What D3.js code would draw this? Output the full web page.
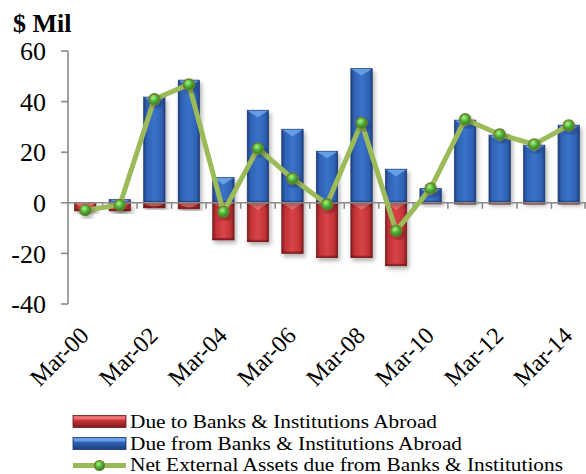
<!DOCTYPE html>
<html><head><meta charset="utf-8">
<script src="https://cdn.jsdelivr.net/npm/d3@7"></script>
<style>body{margin:0;background:#fff}svg{display:block}</style>
</head><body>
<script>
const categories = ["Mar-00","Mar-01","Mar-02","Mar-03","Mar-04","Mar-05","Mar-06","Mar-07","Mar-08","Mar-09","Mar-10","Mar-11","Mar-12","Mar-13","Mar-14"];
const dueTo = [-3.2,-3.2,-2.0,-2.4,-14.7,-15.4,-20.0,-21.7,-21.7,-24.9,-0.4,-0.5,-0.5,-0.5,-0.5];
const dueFrom = [0,1.3,41.8,48.5,10.0,36.6,29.1,20.4,53.1,13.3,5.7,32.7,26.8,22.8,30.7];
const net = [-2.9,-0.9,40.9,46.8,-3.6,21.5,9.6,-0.6,31.6,-11.1,5.7,33.0,27.0,23.1,30.6];
const yTicks = [-40,-20,0,20,40,60];
const xTickLabels = ["Mar-00","Mar-02","Mar-04","Mar-06","Mar-08","Mar-10","Mar-12","Mar-14"];
const seriesNames = ["Due to Banks & Institutions Abroad","Due from Banks & Institutions Abroad","Net External Assets due from Banks & Institutions"];

const W=586,H=474;
const svg=d3.select("body").append("svg").attr("width",W).attr("height",H);
const defs=svg.append("defs");
function hgrad(id,stops){const g=defs.append("linearGradient").attr("id",id).attr("x1","0").attr("x2","1").attr("y1","0").attr("y2","0");
 stops.forEach(s=>g.append("stop").attr("offset",s[0]).attr("stop-color",s[1]));}
function vgrad(id,stops){const g=defs.append("linearGradient").attr("id",id).attr("x1","0").attr("x2","0").attr("y1","0").attr("y2","1");
 stops.forEach(s=>g.append("stop").attr("offset",s[0]).attr("stop-color",s[1]));}
hgrad("gBlue",[[0,"#1d3f7c"],[0.15,"#2f62b5"],[0.5,"#3a73c8"],[0.85,"#2f62b5"],[1,"#1d3f7c"]]);
hgrad("gRed",[[0,"#7e1c1e"],[0.15,"#c03236"],[0.5,"#d84448"],[0.85,"#c03236"],[1,"#7e1c1e"]]);
vgrad("gRedV",[[0,"#e86a6a"],[0.4,"#c83438"],[1,"#7e1c1e"]]);
vgrad("gBlueV",[[0,"#6fa7ec"],[0.4,"#2f62b5"],[1,"#1d3f7c"]]);
const rg=defs.append("radialGradient").attr("id","gDot").attr("cx","0.4").attr("cy","0.35").attr("r","0.65");
rg.append("stop").attr("offset",0).attr("stop-color","#b6f08a");
rg.append("stop").attr("offset",0.5).attr("stop-color","#4fb83a");
rg.append("stop").attr("offset",1).attr("stop-color","#2e7a22");
const f=defs.append("filter").attr("id","sh").attr("x","-30%").attr("y","-30%").attr("width","160%").attr("height","160%");
f.append("feDropShadow").attr("dx",2).attr("dy",3).attr("stdDeviation",2).attr("flood-color","#000").attr("flood-opacity",0.3);

const x=d3.scaleBand().domain(categories).range([68,586]).paddingInner(0.38).paddingOuter(0.19);
const y=d3.scaleLinear().domain([-40,60]).range([304,51]);
const axisColor="#8a8a8a";
const font="Liberation Serif";

function drawBars(vals,grad,light,dark){
 const g=svg.append("g");
 vals.forEach((v,i)=>{
  if(v===0) return;
  const x0=x(categories[i]),bw=x.bandwidth();
  const yTop=y(Math.max(v,0)),yBot=y(Math.min(v,0));
  const h=yBot-yTop;
  const b=g.append("g").attr("filter","url(#sh)");
  b.append("rect").attr("x",x0).attr("y",yTop).attr("width",bw).attr("height",h).attr("fill",`url(#${grad})`).attr("stroke",dark).attr("stroke-width",0.6);
  const d=Math.min(7,h);
  b.append("path").attr("d",`M${x0+0.5},${yTop+0.5}L${x0+bw-0.5},${yTop+0.5}L${x0+bw/2},${yTop+d}Z`).attr("fill",light).attr("opacity",0.85);
  if(h>4) b.append("rect").attr("x",x0).attr("y",yBot-2).attr("width",bw).attr("height",2).attr("fill",dark).attr("opacity",0.6);
 });
}
drawBars(dueTo,"gRed","#f07a78","#6e1618");
drawBars(dueFrom,"gBlue","#6fa7ec","#17336a");

const ax=svg.append("g").attr("stroke",axisColor).attr("stroke-width",1.6).attr("fill","none");
ax.append("line").attr("x1",68).attr("x2",68).attr("y1",y(60)).attr("y2",y(-40));
yTicks.forEach(t=>ax.append("line").attr("x1",61).attr("x2",68).attr("y1",y(t)).attr("y2",y(t)));
ax.append("line").attr("x1",68).attr("x2",586).attr("y1",y(0)).attr("y2",y(0));
categories.forEach((c,i)=>{ if(i===0) return; const xx=x(c)-x.step()*x.paddingInner()/2;
 ax.append("line").attr("x1",xx).attr("x2",xx).attr("y1",y(0)).attr("y2",y(0)+6);});
ax.append("line").attr("x1",585).attr("x2",585).attr("y1",y(0)).attr("y2",y(0)+6);

svg.append("g").selectAll("text").data(yTicks).join("text")
 .attr("x",46).attr("y",d=>y(d)).attr("dy","0.35em").attr("text-anchor","end")
 .attr("font-family",font).attr("font-size",26).attr("fill","#000").text(d=>d);
svg.append("text").attr("x",13).attr("y",32).attr("font-family",font).attr("font-weight","bold").attr("font-size",26).text("$ Mil");

svg.append("g").selectAll("text").data(xTickLabels).join("text")
 .attr("transform",d=>`translate(${x(d)+x.bandwidth()/2+5},${337}) rotate(-45)`)
 .attr("text-anchor","end").attr("font-family",font).attr("font-size",24).text(d=>d);

const line=d3.line().x((d,i)=>x(categories[i])+x.bandwidth()/2).y(d=>y(d));
svg.append("path").datum(net).attr("d",line).attr("fill","none").attr("stroke","#9bbb59").attr("stroke-width",5).attr("stroke-linejoin","round");
svg.append("g").selectAll("circle").data(net).join("circle")
 .attr("cx",(d,i)=>x(categories[i])+x.bandwidth()/2).attr("cy",d=>y(d)).attr("r",5.5)
 .attr("fill","url(#gDot)").attr("stroke","#6f7d2c").attr("stroke-width",1.4).attr("filter","url(#sh)");

const lg=svg.append("g");
const baselines=[428,449.5,471];
const legWidths=[307,332,433];
function legSwatch(yc,grad,light,dark){
 lg.append("rect").attr("x",73).attr("y",yc-6).attr("width",53).attr("height",12).attr("fill",`url(#${grad})`).attr("stroke",dark).attr("stroke-width",0.8);
 lg.append("rect").attr("x",74).attr("y",yc-5).attr("width",51).attr("height",3).attr("fill",light).attr("opacity",0.8);
}
legSwatch(baselines[0]-6.5,"gRedV","#f07a78","#6e1618");
legSwatch(baselines[1]-6,"gBlueV","#6fa7ec","#17336a");
lg.append("line").attr("x1",73).attr("x2",126).attr("y1",baselines[2]-5.5).attr("y2",baselines[2]-5.5).attr("stroke","#9bbb59").attr("stroke-width",5);
lg.append("circle").attr("cx",99.5).attr("cy",baselines[2]-5.5).attr("r",5).attr("fill","url(#gDot)").attr("stroke","#6f7d2c").attr("stroke-width",1.2);
lg.selectAll("text").data(seriesNames).join("text").attr("x",130).attr("y",(d,i)=>baselines[i])
 .attr("font-family",font).attr("font-size",19).attr("textLength",(d,i)=>legWidths[i]).attr("lengthAdjust","spacingAndGlyphs").text(d=>d);
</script>
</body></html>
